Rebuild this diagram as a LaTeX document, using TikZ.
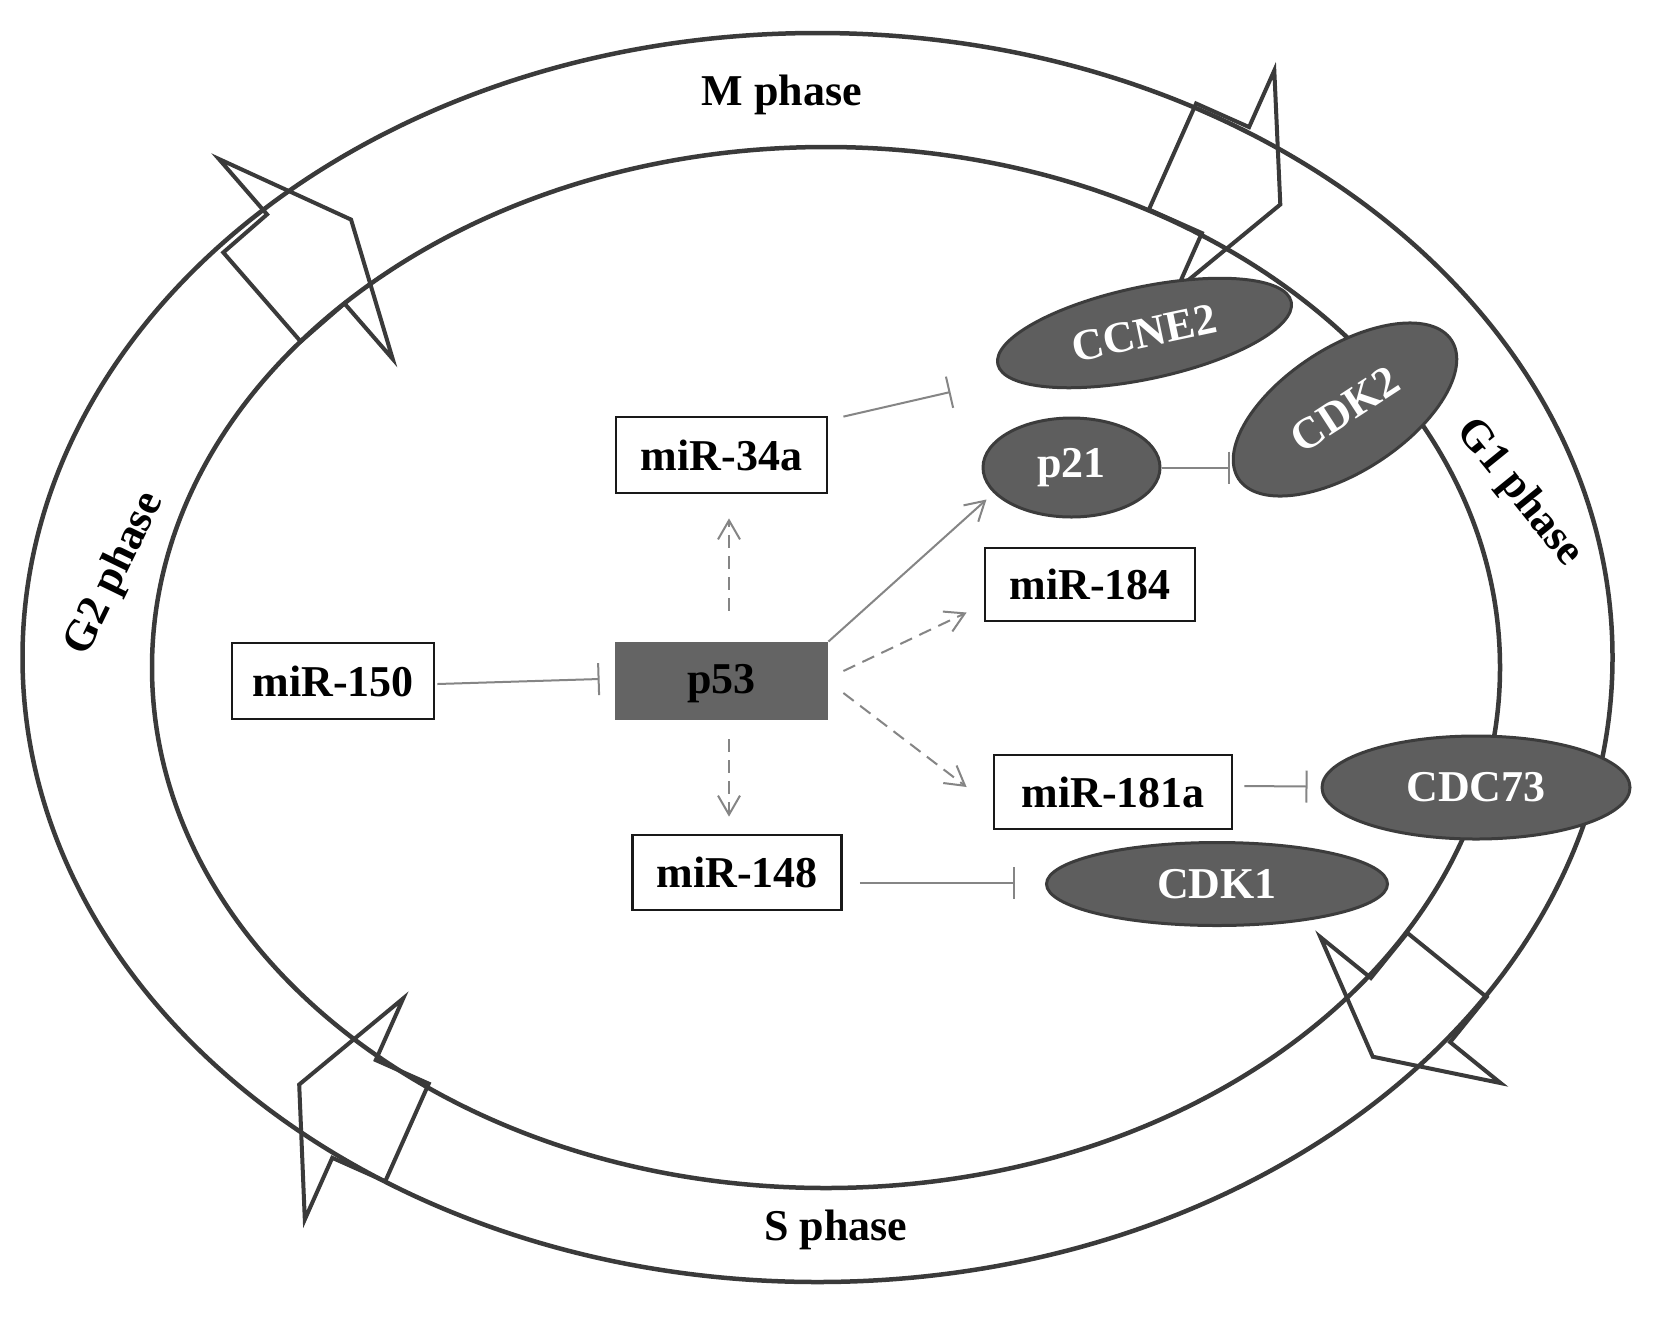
\documentclass[tikz,border=0pt]{standalone}
\usepackage{fontspec}
\setmainfont{Liberation Serif}
\usetikzlibrary{shapes.geometric,arrows.meta,calc}
\definecolor{ringc}{HTML}{3A3A3A}
\definecolor{ellfill}{HTML}{5E5E5E}
\definecolor{elldraw}{HTML}{3C3C3C}
\definecolor{pfill}{HTML}{646464}
\definecolor{connc}{HTML}{858585}
\newcommand\ringarrow[5]{%
  \begin{scope}[shift={(#1,#2)},rotate=#3]
    \draw[ringarr] (0,-#4/2) -- (58,-#4/2) -- (58,-#5/2) -- (118,0) -- (58,#5/2) -- (58,#4/2) -- (0,#4/2) -- cycle;
  \end{scope}}
\tikzset{
  ring/.style={draw=ringc, line width=4.5pt},
  ringarr/.style={draw=ringc, line width=4pt, line join=miter},
  mirbox/.style={rectangle, draw=black!90, line width=2.8pt, fill=white, inner sep=0pt, minimum height=76pt},
  prot/.style={ellipse, fill=ellfill, draw=elldraw, line width=3pt, text=white, inner sep=0pt},
  conn/.style={draw=connc, line width=2pt},
  act/.style={conn, -{Straight Barb[length=19pt,width=22pt]}},
  inh/.style={conn, -{Bar[width=32pt]}},
  dsh/.style={dash pattern=on 13pt off 8pt},
  phase/.style={inner sep=0pt}
}
\begin{document}
\begin{tikzpicture}[x=1pt, y=-1pt, font=\fontsize{44}{50}\selectfont\bfseries]
\fill[white] (0,0) rectangle (1654,1318);
\useasboundingbox (0,0) rectangle (1654,1318);
% rings
\draw[ring] (817.5,657.5) ellipse [x radius=795, y radius=624.5];
\draw[ring] (826,667.5) ellipse [x radius=674, y radius=520.5];
% ring arrows
\ringarrow{262}{297}{41}{118}{265}
\ringarrow{1172.5}{156.5}{-24}{116}{240}
\ringarrow{1447}{965}{-129}{102}{232}
\ringarrow{407}{1132.5}{156}{107}{242}
% phase labels
\node[phase] (mph) at (782,95) {M phase};
\node[phase] (sph) at (836,1230) {S phase};
\node[phase, rotate=64] (g2) at (115,574) {G2 phase};
\node[phase, rotate=-51] (g1) at (1519,493) {G1 phase};
% boxes
\node[mirbox, minimum width=211pt] (m34) at (721.5,455) {miR-34a};
\node[mirbox, minimum width=211pt, fill=pfill, draw=pfill, text height=25pt, text depth=0pt] (p53) at (721.5,681) {p53};
\node[mirbox, minimum width=202pt] (m150) at (333,681) {miR-150};
\node[mirbox, minimum width=210pt, minimum height=73pt] (m184) at (1090,584.5) {miR-184};
\node[mirbox, minimum width=238pt, minimum height=74pt] (m181) at (1113,792) {miR-181a};
\node[mirbox, minimum width=209pt, minimum height=75pt] (m148) at (737,872.5) {miR-148};
% proteins
\node[prot, minimum width=300pt, minimum height=92pt, rotate=12] (ccne) at (1144.5,333) {CCNE2};
\node[prot, minimum width=254pt, minimum height=124pt, rotate=33] (cdk2) at (1345,409.5) {CDK2};
\node[prot, minimum width=177pt, minimum height=99pt] (p21) at (1071.5,467.5) {p21};
\node[prot, minimum width=308pt, minimum height=103pt] (cdc73) at (1476,787.5) {CDC73};
\node[prot, minimum width=341pt, minimum height=83pt] (cdk1) at (1217,884) {CDK1};
% connectors
\draw[inh] ($(m150.east)+(2,3)$) -- ($(p53.west)+(-15,-2)$);
\draw[inh] ($(m34.north east)+(15,1)$) -- ($(ccne.center)+(-194,59)$);
\draw[inh] (p21.east) -- ($(p21.east)+(68,0)$);
\draw[act] (p53.north east) -- ($(p21.center)+(-85,32)$);
\draw[act, dsh] ($(p53.east)+(15,-10)$) -- ($(m184.west)+(-17,28)$);
\draw[act, dsh] ($(p53.east)+(15,12)$) -- ($(m181.west)+(-26,-5)$);
\draw[act, dsh] ($(p53.north)+(7.5,-31)$) -- ($(m34.south)+(7.5,24)$);
\draw[act, dsh] ($(p53.south)+(7.5,19)$) -- ($(m148.north)+(-8,-17)$);
\draw[inh] ($(m181.east)+(11,-6)$) -- ($(cdc73.west)+(-13,-1)$);
\draw[inh] ($(m148.east)+(17,10.5)$) -- ($(cdk1.west)+(-30,-1)$);
\end{tikzpicture}
\end{document}
